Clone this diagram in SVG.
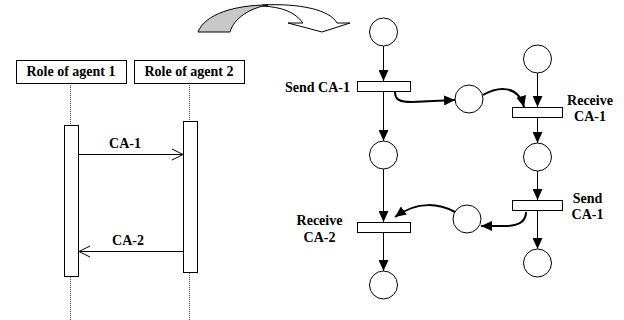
<svg xmlns="http://www.w3.org/2000/svg" width="624" height="320" viewBox="0 0 624 320">
<style>
.t{font-family:"Liberation Serif","Times New Roman",serif;font-weight:bold;font-size:14px;fill:#000}
.box{fill:#fff;stroke:#000;stroke-width:1}
.life{stroke:#555;stroke-width:1;stroke-dasharray:1,1;fill:none}
.msg{stroke:#000;stroke-width:1;fill:none}
.pl{fill:#fff;stroke:#000;stroke-width:1}
.tr{fill:#fff;stroke:#000;stroke-width:1}
.arc{stroke:#000;stroke-width:1;fill:none;marker-end:url(#ah)}
.carc{stroke:#000;stroke-width:2;fill:none;marker-end:url(#ah)}
</style>
<defs>
<marker id="ah" markerUnits="userSpaceOnUse" markerWidth="11" markerHeight="10" refX="11" refY="5" orient="auto">
<path d="M0,0 L11,5 L0,10 Z" fill="#000"/>
</marker>
</defs>
<rect width="624" height="320" fill="#fff"/>

<g id="transform-arrow">
<path d="M262,5 C300,3 330,10 337,23 L350,23 L322,32 L288,23 L303,23 C295,12 282,7 262,6 Z" fill="#fff" stroke="#000" stroke-width="1"/>
<path d="M198,32 C205,14 235,5 268,5 C250,8 234,18 230,32 Z" fill="#c8c8c8" stroke="#000" stroke-width="1"/>
</g>

<g id="role1">
<line class="life" x1="70.5" y1="83" x2="70.5" y2="125"/>
<line class="life" x1="70.5" y1="277" x2="70.5" y2="320"/>
<rect class="box" x="16.5" y="60.5" width="110" height="23"/>
<text class="t" x="71" y="76" text-anchor="middle">Role of agent 1</text>
<rect class="box" x="64.5" y="125.5" width="14" height="151"/>
</g>
<g id="role2">
<line class="life" x1="189.5" y1="83" x2="189.5" y2="121"/>
<line class="life" x1="189.5" y1="273" x2="189.5" y2="320"/>
<rect class="box" x="134.5" y="60.5" width="110" height="23"/>
<text class="t" x="189" y="76" text-anchor="middle">Role of agent 2</text>
<rect class="box" x="183.5" y="121.5" width="14" height="151"/>
</g>

<g id="messages">
<line class="msg" x1="79" y1="154.5" x2="183" y2="154.5"/>
<polyline class="msg" points="172,149 183,154.5 172,160"/>
<text class="t" x="125" y="148" text-anchor="middle">CA-1</text>
<line class="msg" x1="79" y1="251.5" x2="183" y2="251.5"/>
<polyline class="msg" points="90,246 79,251.5 90,257"/>
<text class="t" x="128" y="245" text-anchor="middle">CA-2</text>
</g>

<g id="connectors">
<line class="arc" x1="383.5" y1="46" x2="383.5" y2="81"/>
<line class="arc" x1="383.5" y1="92" x2="383.5" y2="141"/>
<line class="arc" x1="383.5" y1="169" x2="383.5" y2="222"/>
<line class="arc" x1="383.5" y1="233" x2="383.5" y2="271"/>
<line class="arc" x1="537.5" y1="73" x2="537.5" y2="107"/>
<line class="arc" x1="537.5" y1="118" x2="537.5" y2="143"/>
<line class="arc" x1="537.5" y1="171" x2="537.5" y2="200"/>
<line class="arc" x1="537.5" y1="211" x2="537.5" y2="249"/>
<path class="carc" d="M395,92 C395,100 400,102 412,102 L455,100"/>
<path class="carc" d="M483,95 C497,87 518,84 524,107"/>
<path class="carc" d="M526,212 C526,222 518,226 505,226 L481,226"/>
<path class="carc" d="M455,212 C440,204 418,200 395,217"/>
</g>

<g id="p1"><circle class="pl" cx="383.5" cy="32" r="14"/></g>
<g id="t-send1">
<rect class="tr" x="357.5" y="81.5" width="53" height="10"/>
<text class="t" x="350" y="92" text-anchor="end">Send CA-1</text>
</g>
<g id="p2"><circle class="pl" cx="383.5" cy="155" r="14"/></g>
<g id="t-recv2">
<rect class="tr" x="357.5" y="222.5" width="53" height="10"/>
<text class="t" x="319.5" y="225" text-anchor="middle">Receive</text>
<text class="t" x="319.5" y="242" text-anchor="middle">CA-2</text>
</g>
<g id="p3"><circle class="pl" cx="383.5" cy="285" r="14"/></g>

<g id="m1"><circle class="pl" cx="469" cy="99" r="14"/></g>
<g id="m2"><circle class="pl" cx="467" cy="219" r="14"/></g>

<g id="q1"><circle class="pl" cx="537.5" cy="59" r="14"/></g>
<g id="t-recv1">
<rect class="tr" x="512.5" y="107.5" width="50" height="10"/>
<text class="t" x="590" y="105" text-anchor="middle">Receive</text>
<text class="t" x="590" y="121" text-anchor="middle">CA-1</text>
</g>
<g id="q2"><circle class="pl" cx="537.5" cy="157" r="14"/></g>
<g id="t-send2">
<rect class="tr" x="512.5" y="200.5" width="50" height="10"/>
<text class="t" x="587.5" y="203" text-anchor="middle">Send</text>
<text class="t" x="587.5" y="219" text-anchor="middle">CA-1</text>
</g>
<g id="q3"><circle class="pl" cx="537.5" cy="263" r="14"/></g>
</svg>
